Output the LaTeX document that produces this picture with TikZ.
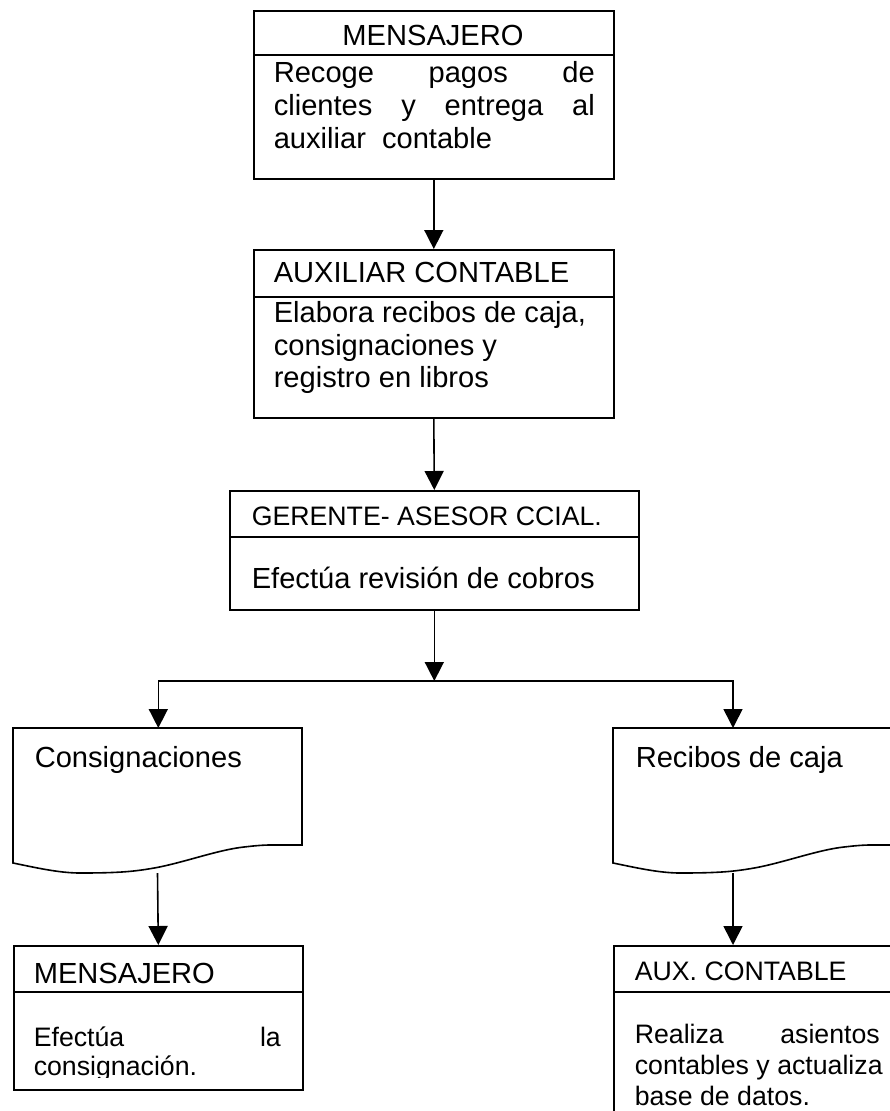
\documentclass[tikz,border=0pt]{standalone}
\usepackage{fontspec}
\setmainfont{Liberation Sans}
\usetikzlibrary{arrows.meta}
% two text sizes used in the chart
\newcommand\fsbody{\fontsize{29.1}{33.5}\selectfont}
\newcommand\fssmall{\fontsize{26.7}{30.7}\selectfont}

\begin{document}
\begin{tikzpicture}[x=1pt,y=-1pt,
  line width=1.6pt,
  box/.style={draw, rectangle, anchor=north west, inner sep=0pt},
  docarea/.style={rectangle, anchor=north west, inner sep=0pt,
    minimum width=289pt, minimum height=117pt},
  arr/.style={-{Triangle[length=19pt,width=19pt]}},
  txt/.style={anchor=base west, inner sep=0pt, font=\fsbody},
  txts/.style={anchor=base west, inner sep=0pt, font=\fssmall},
  docshape/.pic={
    \draw (0,0) -- (289,0) -- (289,117) -- (257,117)
      .. controls (249,117) and (239,118) .. (227,119.5)
      .. controls (202,123) and (172,134) .. (144,139.5)
      .. controls (122,143.5) and (107,145) .. (67,145)
      .. controls (45,145) and (20,139) .. (0,135) -- cycle;
  },
]
\clip (0,0) rectangle (890,1111);

% ---- process boxes ----
\node[box, minimum width=360pt, minimum height=168pt] (b1) at (253,10) {};
\draw (b1.west |- 0,55) -- (b1.east |- 0,55);
\node[box, minimum width=360pt, minimum height=168pt] (b2) at (253,249) {};
\draw (b2.west |- 0,297) -- (b2.east |- 0,297);
\node[box, minimum width=409pt, minimum height=119pt] (b3) at (229,490) {};
\draw (b3.west |- 0,537) -- (b3.east |- 0,537);
\node[box, minimum width=289pt, minimum height=144pt] (b4) at (13,945) {};
\draw (b4.west |- 0,992) -- (b4.east |- 0,992);
\node[box, minimum width=289pt, minimum height=200pt] (b5) at (613,945) {};
\draw (b5.west |- 0,992) -- (b5.east |- 0,992);

% ---- documents ----
\node[docarea] (d1) at (13,728) {};
\pic at (d1.north west) {docshape};
\node[docarea] (d2) at (613,728) {};
\pic at (d2.north west) {docshape};

% ---- texts ----
\node[txt, anchor=base] (b1h) at (433,45) {MENSAJERO};
\node[txt] (b1a) at (273,82) {\makebox[321pt][s]{Recoge pagos de}};
\node[txt] (b1b) at (273,115) {\makebox[321pt][s]{clientes y entrega al}};
\node[txt] (b1c) at (273,148) {auxiliar\hspace{8pt} contable};

\node[txt] (b2h) at (273,282) {AUXILIAR CONTABLE};
\node[txt] (b2a) at (273,322) {Elabora recibos de caja,};
\node[txt] (b2b) at (273,355) {consignaciones y};
\node[txt] (b2c) at (273,387) {registro en libros};

\node[txts] (b3h) at (251,525) {GERENTE- ASESOR CCIAL.};
\node[txt] (b3a) at (251,588) {Efectúa revisión de cobros};

\node[txt] (d1t) at (34,767) {Consignaciones};
\node[txt] (d2t) at (635,767) {Recibos de caja};

\node[txt] (b4h) at (33,983) {MENSAJERO};
\begin{scope}
  \clip (b4.west |- 0,992) rectangle (b4.east |- 0,1077);
  \node[txts] (b4a) at (33,1046) {\makebox[247pt][s]{Efectúa la}};
  \node[txts] (b4b) at (33,1075) {consignación.};
\end{scope}

\node[txts] (b5h) at (634,980) {AUX. CONTABLE};
\begin{scope}
  \clip (b5.west |- 0,992) rectangle (b5.east |- 0,1107);
  \node[txts] (b5a) at (634,1043) {\makebox[245pt][s]{Realiza asientos}};
  \node[txts] (b5b) at (634,1074) {contables y actualiza};
  \node[txts] (b5c) at (634,1105) {base de datos.};
\end{scope}

% ---- connectors ----
\coordinate (j) at (b3.south |- 0,681);
\coordinate (d2in) at (733,728);
\coordinate (d1out) at (157.5,873);
\coordinate (d2out) at (733,873);

\draw[arr] (b1.south) -- (b2.north);
\draw[arr] (b2.south) -- (b3.north);
\draw[arr] (b3.south) -- (j);
\draw[arr] (j) -| (d1.north);
\draw[arr] (j) -| (d2in);
\draw[arr] (d1out) -- (b4.north);
\draw[arr] (d2out) -- (d2out |- b5.north);
\end{tikzpicture}
\end{document}
